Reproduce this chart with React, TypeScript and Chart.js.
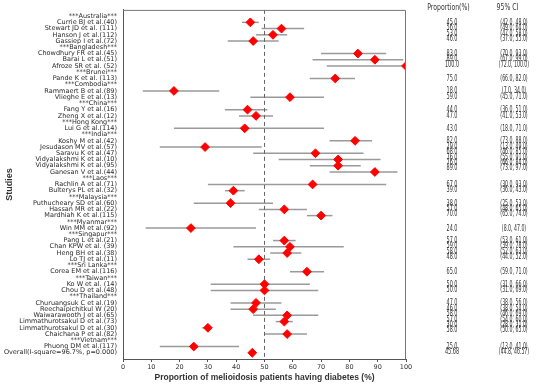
import React, { useEffect, useRef } from "react";
import { Chart, registerables } from "chart.js";

Chart.register(...registerables);

const studyLabels: string[] = [
  "***Australia***",
  "Currie BJ et al.(40)",
  "Stewart JD et al. (111)",
  "Hanson J et al.(112)",
  "Gassiep I et al.(72)",
  "***Bangladesh***",
  "Chowdhury FR et al.(45)",
  "Barai L et al.(51)",
  "Afroze SR et al. (52)",
  "***Brunei***",
  "Pande K et al. (113)",
  "***Combodia***",
  "Rammaert B et al.(89)",
  "Vlieghe E et al.(13)",
  "***China***",
  "Fang Y et al.(16)",
  "Zheng X et al.(12)",
  "***Hong Kong***",
  "Lui G et al.(114)",
  "***India***",
  "Koshy M et al.(42)",
  "Jesudason MV et al.(57)",
  "Saravu K et al.(47)",
  "Vidyalakshmi K et al.(10)",
  "Vidyalakshmi K et al.(95)",
  "Ganesan V et al.(44)",
  "***Laos***",
  "Rachlin A et al.(71)",
  "Bulterys PL et al.(32)",
  "***Malaysia***",
  "Puthucheary SD et al.(60)",
  "Hassan MR et al.(22)",
  "Mardhiah K et al.(115)",
  "***Myanmar***",
  "Win MM et al.(92)",
  "***Singapur***",
  "Pang L et al.(21)",
  "Chan KPW et al. (39)",
  "Heng BH et al.(38)",
  "Lo TJ et al.(11)",
  "***Sri Lanka***",
  "Corea EM et al.(116)",
  "***Taiwan***",
  "Ko W et al. (14)",
  "Chou D et al.(48)",
  "***Thailand***",
  "Churuangsuk C et al.(19)",
  "Reechaipichitkul W (20)",
  "Waiwarawooth J et al.(65)",
  "Limmathurotsakul D et al.(73)",
  "Limmathurotsakul D et al.(30)",
  "Chaichana P et al.(82)",
  "***Vietnam***",
  "Phuong DM et al.(117)",
  "Overall(I-square=96.7%, p=0.000)",
];

const proportions: (number | null)[] = [
  null, 45, 56, 53, 46,
  null, 83, 89, 100,
  null, 75,
  null, 18, 59,
  null, 44, 47,
  null, 43,
  null, 82, 29, 68, 76, 76, 89,
  null, 67, 39,
  null, 38, 57, 70,
  null, 24,
  null, 57, 59, 58, 48,
  null, 65,
  null, 50, 50,
  null, 47, 46, 58, 57, 30, 58,
  null, 25,
  45.68,
];

const ciLow: (number | null)[] = [
  null, 42, 49, 47, 37,
  null, 70, 67, 72,
  null, 66,
  null, 7, 45,
  null, 36, 41,
  null, 18,
  null, 73, 13, 46, 55, 66, 73,
  null, 30, 36,
  null, 25, 48, 65,
  null, 8,
  null, 53, 39, 52, 44,
  null, 59,
  null, 31, 31,
  null, 38, 38, 46, 54, 28, 50,
  null, 13,
  44.8,
];

const ciHigh: (number | null)[] = [
  null, 48, 64, 58, 55,
  null, 93, 99, 100,
  null, 82,
  null, 34, 71,
  null, 51, 53,
  null, 71,
  null, 88, 49, 85, 91, 84, 97,
  null, 93, 43,
  null, 53, 65, 74,
  null, 47,
  null, 61, 78, 63, 52,
  null, 71,
  null, 66, 69,
  null, 56, 54, 69, 60, 31, 65,
  null, 41,
  46.57,
];

const xTickValues: number[] = [0, 10, 20, 30, 40, 50, 60, 70, 80, 90, 100];
const referenceLine = 50;

function fmt(v: number): string {
  const t = v * 10;
  return Math.abs(t - Math.round(t)) < 1e-9 ? v.toFixed(1) : String(v);
}

const rowCount = studyLabels.length;

const rightColumnPlugin = {
  id: "rightColumns",
  afterDraw(chart: any) {
    const { ctx, chartArea, scales } = chart;
    const y = scales.y;
    ctx.save();
    ctx.strokeStyle = "#777";
    ctx.lineWidth = 1;
    ctx.beginPath();
    ctx.moveTo(chartArea.left, chartArea.top + 0.5);
    ctx.lineTo(chartArea.right - 0.5, chartArea.top + 0.5);
    ctx.lineTo(chartArea.right - 0.5, chartArea.bottom);
    ctx.stroke();

    const drawSq = (t: string, cx: number, cy: number, sx: number, font: string) => {
      ctx.save();
      ctx.font = font;
      ctx.fillStyle = "#333";
      ctx.textAlign = "center";
      ctx.textBaseline = "middle";
      ctx.translate(cx, cy);
      ctx.scale(sx, 1);
      ctx.fillText(t, 0, 0);
      ctx.restore();
    };
    const font = "9.5px 'DejaVu Sans'";
    drawSq("Proportion(%)", 448.5, 7.5, 0.65, font);
    drawSq("95% CI", 507.5, 7.5, 0.65, font);

    let groupStart = 0;
    for (let i = 0; i < rowCount; i++) {
      const p = proportions[i];
      if (p === null) {
        groupStart = i + 1;
        continue;
      }
      const lo = ciLow[i] as number;
      const hi = ciHigh[i] as number;
      const yy = y.getPixelForValue(groupStart + 0.87 * (i - groupStart));
      drawSq(fmt(p), 452, yy, 0.52, font);
      drawSq("(" + fmt(lo) + ", " + fmt(hi) + ")", 514, yy, 0.49, font);
    }
    ctx.restore();
  },
};

export default function App() {
  const canvasRef = useRef<HTMLCanvasElement | null>(null);

  useEffect(() => {
    const canvas = canvasRef.current;
    if (!canvas) return;

    const errorSets: any[] = [];
    const points: any[] = [];
    for (let i = 0; i < rowCount; i++) {
      const p = proportions[i];
      if (p === null) continue;
      points.push({ x: p, y: i });
      errorSets.push({
        data: [
          { x: ciLow[i], y: i },
          { x: ciHigh[i], y: i },
        ],
        showLine: true,
        borderColor: "#9a9a9a",
        borderWidth: 1.5,
        pointRadius: 0,
        order: 3,
      });
    }

    const chart = new Chart(canvas, {
      type: "scatter",
      data: {
        datasets: [
          {
            data: points,
            pointStyle: "rectRot",
            pointRadius: 4.4,
            pointBackgroundColor: "#ff0000",
            pointBorderColor: "#ff0000",
            pointBorderWidth: 1,
            order: 1,
          },
          {
            data: [
              { x: referenceLine, y: -1 },
              { x: referenceLine, y: rowCount },
            ],
            showLine: true,
            borderColor: "#666",
            borderWidth: 1,
            borderDash: [4, 3],
            pointRadius: 0,
            order: 2,
          },
          ...errorSets,
        ],
      },
      options: {
        animation: false,
        responsive: false,
        devicePixelRatio: 1,
        layout: { padding: { top: 8, right: 144, left: 0, bottom: 0 } },
        plugins: {
          legend: { display: false },
          tooltip: { enabled: false },
        },
        scales: {
          x: {
            type: "linear",
            min: 0,
            max: 100,
            afterBuildTicks: (scale: any) => {
              scale.ticks = xTickValues.map((v) => ({ value: v }));
            },
            afterFit: (scale: any) => {
              scale.height = 27;
            },
            ticks: {
              autoSkip: false,
              maxRotation: 0,
              padding: 1,
              color: "#333",
              font: { family: "'DejaVu Sans'", size: 6.5 },
            },
            grid: {
              display: true,
              drawOnChartArea: false,
              drawTicks: true,
              tickLength: 3,
              color: "#555",
            },
            border: { display: true, color: "#555" },
            title: {
              display: true,
              text: "Proportion of melioidosis patients having diabetes (%)",
              color: "#333",
              font: { family: "'Liberation Sans Narrow', 'Liberation Sans'", size: 8.5, weight: "bold" },
              padding: { top: 0, bottom: 3 },
            },
          },
          y: {
            type: "linear",
            reverse: true,
            min: -1,
            max: rowCount,
            afterBuildTicks: (scale: any) => {
              scale.ticks = studyLabels.map((_, i) => ({ value: i }));
            },
            afterFit: (scale: any) => {
              scale.width = 123;
            },
            ticks: {
              autoSkip: false,
              padding: 6,
              color: "#2a2a2a",
              font: { family: "'DejaVu Sans'", size: 6.5 },
              callback: (v: any) => studyLabels[v as number] ?? "",
            },
            grid: { display: false, drawTicks: false },
            border: { display: true, color: "#555" },
            title: {
              display: true,
              text: "Studies",
              color: "#333",
              font: { family: "'Liberation Sans Narrow', 'Liberation Sans'", size: 9, weight: "bold" },
              padding: { top: 4, bottom: 0 },
            },
          },
        },
      },
      plugins: [rightColumnPlugin],
    });

    return () => chart.destroy();
  }, []);

  return (
    <div style={{ position: "fixed", left: 0, top: 0, width: 550, height: 386, background: "#fff" }}>
      <canvas ref={canvasRef} width={550} height={386} style={{ display: "block", width: 550, height: 386 }} />
    </div>
  );
}
